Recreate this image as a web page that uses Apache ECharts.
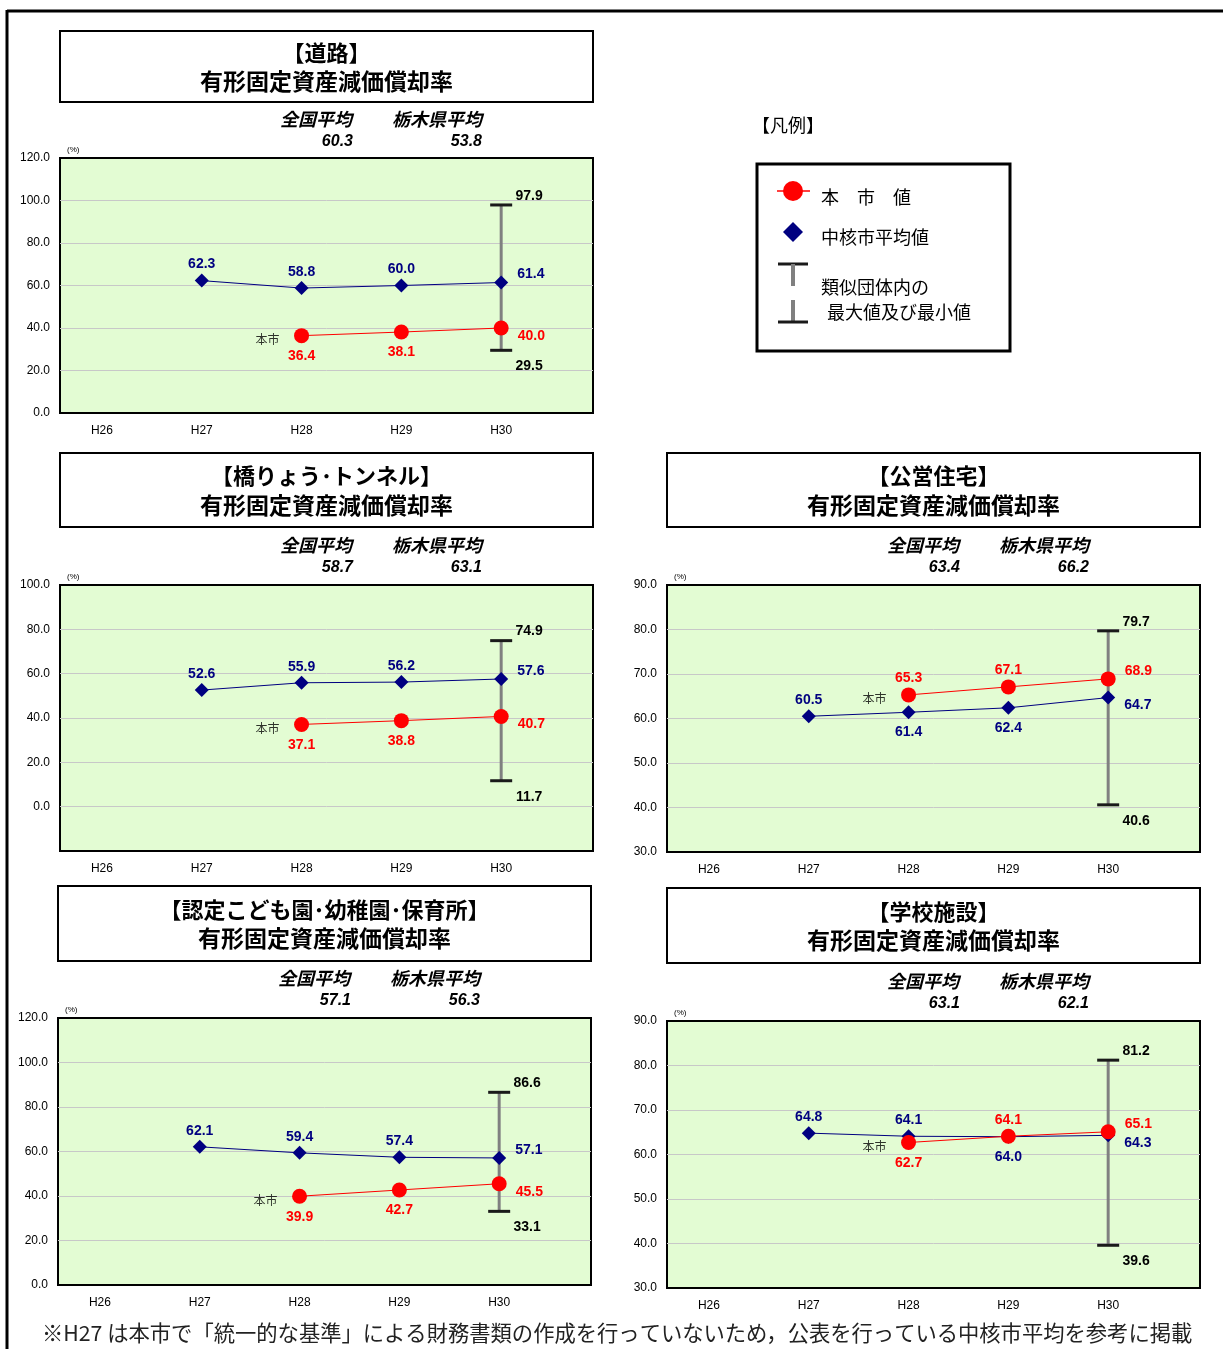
<!DOCTYPE html>
<html>
<head>
<meta charset="utf-8">
<script src="https://cdn.jsdelivr.net/npm/echarts@6/dist/echarts.min.js"></script>
<style>
html, body { margin: 0; padding: 0; background: #fff; }
#main { width: 1223px; height: 1349px; }
</style>
</head>
<body>
<div id="main"></div>
<script>
// 年度
var years = ['H26', 'H27', 'H28', 'H29', 'H30'];

// 道路
var roadCity = [null, null, 36.4, 38.1, 40.0];
var roadCore = [null, 62.3, 58.8, 60.0, 61.4];
var roadRange = [29.5, 97.9];
var roadAvg = [60.3, 53.8];

// 橋りょう・トンネル
var bridgeCity = [null, null, 37.1, 38.8, 40.7];
var bridgeCore = [null, 52.6, 55.9, 56.2, 57.6];
var bridgeRange = [11.7, 74.9];
var bridgeAvg = [58.7, 63.1];

// 公営住宅
var housingCity = [null, null, 65.3, 67.1, 68.9];
var housingCore = [null, 60.5, 61.4, 62.4, 64.7];
var housingRange = [40.6, 79.7];
var housingAvg = [63.4, 66.2];

// 認定こども園・幼稚園・保育所
var nurseryCity = [null, null, 39.9, 42.7, 45.5];
var nurseryCore = [null, 62.1, 59.4, 57.4, 57.1];
var nurseryRange = [33.1, 86.6];
var nurseryAvg = [57.1, 56.3];

// 学校施設
var schoolCity = [null, null, 62.7, 64.1, 65.1];
var schoolCore = [null, 64.8, 64.1, 64.0, 64.3];
var schoolRange = [39.6, 81.2];
var schoolAvg = [63.1, 62.1];

var NUM = '"Liberation Sans", Arial, sans-serif';
var JP = '"Noto Sans CJK JP", sans-serif';

// ラベル位置 (t=上, b=下, ru=右上, rd=右下)
var posStd = { city: [null, null, 'b', 'b', 'rd'], core: [null, 't', 't', 't', 'ru'] };
var posHousing = { city: [null, null, 't', 't', 'ru'], core: [null, 't', 'b', 'b', 'rd'] };
var posSchool = { city: [null, null, 'b', 't', 'ru'], core: [null, 't', 't', 'b', 'rd'] };

var panels = [
  { title: '【道路】', city: roadCity, core: roadCore, range: roadRange, avg: roadAvg,
    y: [0, 120, 20], box: [60, 31, 533, 71], plot: [60, 158, 533, 255], avgY: 119, pos: posStd },
  { title: '【橋りょう･トンネル】', city: bridgeCity, core: bridgeCore, range: bridgeRange, avg: bridgeAvg,
    y: [-20, 100, 20], box: [60, 453, 533, 74], plot: [60, 585, 533, 266], avgY: 545, pos: posStd },
  { title: '【公営住宅】', city: housingCity, core: housingCore, range: housingRange, avg: housingAvg,
    y: [30, 90, 10], box: [667, 453, 533, 74], plot: [667, 585, 533, 267], avgY: 545, pos: posHousing },
  { title: '【認定こども園･幼稚園･保育所】', city: nurseryCity, core: nurseryCore, range: nurseryRange, avg: nurseryAvg,
    y: [0, 120, 20], box: [58, 886, 533, 75], plot: [58, 1018, 533, 267], avgY: 978, pos: posStd },
  { title: '【学校施設】', city: schoolCity, core: schoolCore, range: schoolRange, avg: schoolAvg,
    y: [30, 90, 10], box: [667, 888, 533, 75], plot: [667, 1021, 533, 267], avgY: 981, pos: posSchool }
];

function pointLabel(code, color) {
  var l = {
    show: true, color: color, fontFamily: NUM, fontWeight: 'bold', fontSize: 14,
    formatter: function (p) { return p.value[1].toFixed(1); }
  };
  if (code === 't') { l.position = 'top'; l.distance = 2; }
  else if (code === 'b') { l.position = 'bottom'; l.distance = 6; }
  else if (code === 'ru') { l.position = 'right'; l.distance = 9; l.offset = [0, -8]; }
  else { l.position = 'right'; l.distance = 9; l.offset = [0, 8]; }
  return l;
}

function toItems(values, codes, color) {
  var out = [];
  values.forEach(function (v, i) {
    if (v == null) return;
    out.push({ value: [i, v], label: pointLabel(codes[i], color) });
  });
  return out;
}

function renderRange(params, api) {
  var x = api.value(0);
  var lo = api.coord([x, api.value(1)]);
  var hi = api.coord([x, api.value(2)]);
  var capStyle = { stroke: '#1a1a1a', lineWidth: 3 };
  var txt = function (t, px, py) {
    return { type: 'text', x: px, y: py, style: { text: t, font: 'bold 14px ' + NUM, fill: '#000',
      align: 'center', verticalAlign: 'middle', textAlign: 'center', textVerticalAlign: 'middle' } };
  };
  return { type: 'group', children: [
    { type: 'line', shape: { x1: hi[0], y1: hi[1], x2: lo[0], y2: lo[1] }, style: { stroke: '#808080', lineWidth: 3 } },
    { type: 'line', shape: { x1: hi[0] - 11, y1: hi[1], x2: hi[0] + 11, y2: hi[1] }, style: capStyle },
    { type: 'line', shape: { x1: lo[0] - 11, y1: lo[1], x2: lo[0] + 11, y2: lo[1] }, style: capStyle },
    txt(api.value(2).toFixed(1), hi[0] + 28, hi[1] - 9),
    txt(api.value(1).toFixed(1), lo[0] + 28, lo[1] + 16)
  ] };
}

function text(t, x, y, font, opts) {
  opts = opts || {};
  var align = opts.align || 'left';
  return { type: 'text', x: x, y: y, z: 10, silent: true,
    style: { text: t, font: font, fill: opts.fill || '#000', align: align, verticalAlign: 'middle',
      textAlign: align, textVerticalAlign: 'middle' } };
}

var grids = [], xAxes = [], yAxes = [], series = [], graphics = [];

panels.forEach(function (p, i) {
  grids.push({ left: p.plot[0], top: p.plot[1], width: p.plot[2], height: p.plot[3],
    show: true, backgroundColor: '#e3fcd3', borderColor: '#000', borderWidth: 2 });

  xAxes.push({ gridIndex: i, type: 'value', min: -0.42, max: 4.92, interval: 0.02,
    axisLine: { show: false }, axisTick: { show: false }, splitLine: { show: false },
    axisLabel: { margin: 12, color: '#000', fontSize: 12, fontFamily: NUM,
      formatter: function (v) {
        var r = Math.round(v);
        return Math.abs(v - r) < 1e-6 && years[r] ? years[r] : '';
      } } });

  yAxes.push({ gridIndex: i, type: 'value', min: p.y[0], max: p.y[1], interval: p.y[2],
    axisLine: { show: false }, axisTick: { show: false },
    splitLine: { showMinLine: false, showMaxLine: false, lineStyle: { color: '#c8c8c8', width: 1 } },
    axisLabel: { margin: 10, color: '#000', fontSize: 12, fontFamily: NUM,
      formatter: function (v) { return v < 0 ? '' : v.toFixed(1); } } });

  series.push({ type: 'custom', xAxisIndex: i, yAxisIndex: i, silent: true, z: 2,
    renderItem: renderRange, encode: { x: 0, y: [1, 2] },
    data: [[years.length - 1, p.range[0], p.range[1]]] });

  series.push({ type: 'line', name: '中核市平均値', xAxisIndex: i, yAxisIndex: i, z: 3,
    symbol: 'diamond', symbolSize: 14,
    itemStyle: { color: '#000080' }, lineStyle: { color: '#000080', width: 1 },
    data: toItems(p.core, p.pos.core, '#000080') });

  series.push({ type: 'line', name: '本市値', xAxisIndex: i, yAxisIndex: i, z: 4,
    symbol: 'circle', symbolSize: 15,
    itemStyle: { color: '#ff0000' }, lineStyle: { color: '#ff0000', width: 1 },
    data: toItems(p.city, p.pos.city, '#ff0000') });

  var first = p.city.findIndex(function (v) { return v != null; });
  series.push({ type: 'scatter', xAxisIndex: i, yAxisIndex: i, z: 5, silent: true, symbolSize: 0,
    label: { show: true, position: 'left', distance: 22, offset: [0, 4], formatter: '本市',
      color: '#000', fontSize: 12, fontFamily: JP },
    data: [[first, p.city[first]]] });

  // (%) 単位
  graphics.push(text('(%)', p.plot[0] + 7, p.plot[1] - 8, '8px ' + NUM));

  // タイトル枠
  var b = p.box;
  graphics.push({ type: 'rect', z: 5, silent: true, shape: { x: b[0], y: b[1], width: b[2], height: b[3] },
    style: { fill: '#fff', stroke: '#000', lineWidth: 2 } });
  var cx = b[0] + b[2] / 2;
  var cy = b[1] + b[3] / 2;
  graphics.push(text(p.title, cx, cy - 14, 'bold 22px ' + JP, { align: 'center' }));
  graphics.push(text('有形固定資産減価償却率', cx, cy + 15, 'bold 23px ' + JP, { align: 'center' }));

  // 全国平均・県平均
  graphics.push(text('全国平均', b[0] + 256, p.avgY, 'italic bold 18px ' + JP, { align: 'center' }));
  graphics.push(text('栃木県平均', b[0] + 377, p.avgY, 'italic bold 18px ' + JP, { align: 'center' }));
  graphics.push(text(p.avg[0].toFixed(1), b[0] + 293, p.avgY + 23, 'italic bold 16px ' + NUM, { align: 'right' }));
  graphics.push(text(p.avg[1].toFixed(1), b[0] + 422, p.avgY + 23, 'italic bold 16px ' + NUM, { align: 'right' }));
});

// 外枠
graphics.push({ type: 'line', silent: true, shape: { x1: 7, y1: 11, x2: 1223, y2: 11 }, style: { stroke: '#000', lineWidth: 3 } });
graphics.push({ type: 'line', silent: true, shape: { x1: 7, y1: 10, x2: 7, y2: 1349 }, style: { stroke: '#000', lineWidth: 3 } });

// 凡例
graphics.push(text('【凡例】', 752, 125, '18px ' + JP));
graphics.push({ type: 'rect', silent: true, shape: { x: 757, y: 164, width: 253, height: 187 },
  style: { fill: '#fff', stroke: '#000', lineWidth: 3 } });
graphics.push({ type: 'line', silent: true, z: 6, shape: { x1: 777, y1: 191, x2: 810, y2: 191 }, style: { stroke: '#ff0000', lineWidth: 1.5 } });
graphics.push({ type: 'circle', silent: true, z: 7, shape: { cx: 793, cy: 191, r: 10 }, style: { fill: '#ff0000' } });
graphics.push(text('本　市　値', 821, 197, '18px ' + JP));
graphics.push({ type: 'polygon', silent: true, z: 6, shape: { points: [[793, 222], [803, 232], [793, 242], [783, 232]] }, style: { fill: '#000080' } });
graphics.push(text('中核市平均値', 821, 237, '18px ' + JP));
graphics.push({ type: 'line', silent: true, z: 6, shape: { x1: 778, y1: 264, x2: 808, y2: 264 }, style: { stroke: '#1a1a1a', lineWidth: 3 } });
graphics.push({ type: 'line', silent: true, z: 6, shape: { x1: 793, y1: 264, x2: 793, y2: 286 }, style: { stroke: '#808080', lineWidth: 4 } });
graphics.push({ type: 'line', silent: true, z: 6, shape: { x1: 793, y1: 300, x2: 793, y2: 322 }, style: { stroke: '#808080', lineWidth: 4 } });
graphics.push({ type: 'line', silent: true, z: 6, shape: { x1: 778, y1: 322, x2: 808, y2: 322 }, style: { stroke: '#1a1a1a', lineWidth: 3 } });
graphics.push(text('類似団体内の', 821, 287, '18px ' + JP));
graphics.push(text('最大値及び最小値', 827, 312, '18px ' + JP));

// 注記
graphics.push(text('※H27 は本市で「統一的な基準」による財務書類の作成を行っていないため，公表を行っている中核市平均を参考に掲載',
  42, 1333, '21.3px ' + JP, { fill: '#222' }));

var chart = echarts.init(document.getElementById('main'));
chart.setOption({
  animation: false,
  textStyle: { fontFamily: JP },
  grid: grids,
  xAxis: xAxes,
  yAxis: yAxes,
  series: series,
  graphic: { elements: graphics }
});
</script>
</body>
</html>
